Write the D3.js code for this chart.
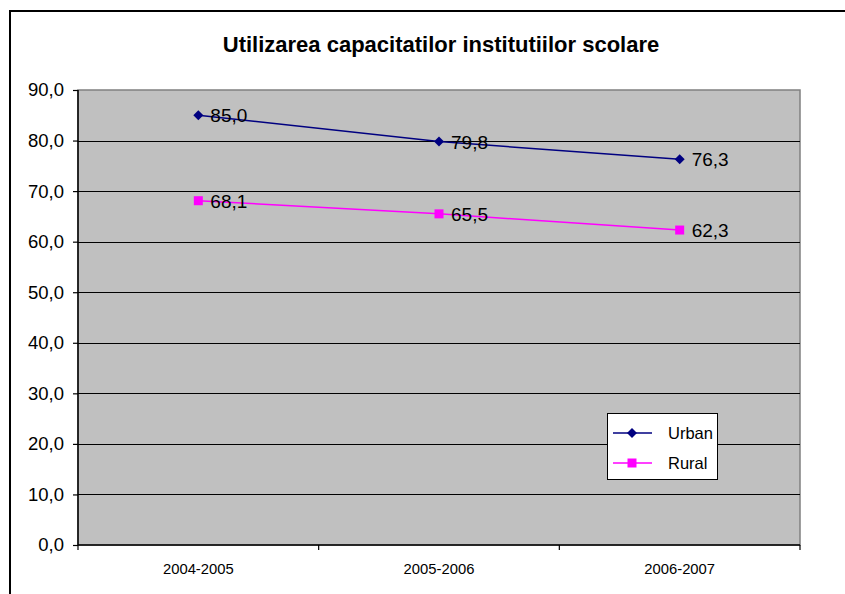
<!DOCTYPE html>
<html><head><meta charset="utf-8">
<script src="https://cdn.jsdelivr.net/npm/d3@7"></script>
<style>body{margin:0;background:#fff;} svg{display:block;font-family:Arial,"Liberation Sans",sans-serif;}</style>
</head><body>
<svg id="c" width="845" height="594"></svg>
<script>
const title = "Utilizarea capacitatilor institutiilor scolare";
const categories = ["2004-2005", "2005-2006", "2006-2007"];
const urban = [85.0, 79.8, 76.3];
const rural = [68.1, 65.5, 62.3];
const seriesNames = ["Urban", "Rural"];
const seriesColors = ["#000080", "#FF00FF"];
const yTicks = [0, 10, 20, 30, 40, 50, 60, 70, 80, 90];

const svg = d3.select("#c");
const m = {left: 78, top: 90, right: 800, bottom: 545};

svg.append("rect").attr("x", 10).attr("y", 11).attr("width", 900).attr("height", 700)
  .attr("fill", "#fff").attr("stroke", "#000").attr("stroke-width", 2);

svg.append("text").attr("x", 441).attr("y", 52).attr("text-anchor", "middle")
  .attr("font-size", 22).attr("font-weight", "bold").text(title);

const x = d3.scaleBand().domain(categories).range([m.left, m.right]).padding(0);
const y = d3.scaleLinear().domain([0, 90]).range([m.bottom, m.top]);
const fmt = v => d3.format(".1f")(v).replace(".", ",");

svg.append("rect").attr("x", m.left).attr("y", m.top)
  .attr("width", m.right - m.left).attr("height", m.bottom - m.top)
  .attr("fill", "#C0C0C0").attr("stroke", "#808080").attr("stroke-width", 1.5);

// gridlines
svg.append("g").selectAll("line").data(yTicks.filter(d => d > 0 && d < 90)).join("line")
  .attr("x1", m.left).attr("x2", m.right)
  .attr("y1", d => Math.round(y(d)) + 0.5).attr("y2", d => Math.round(y(d)) + 0.5)
  .attr("stroke", "#000").attr("stroke-width", 1);

// y axis
const yAxis = d3.axisLeft(y).tickValues(yTicks).tickFormat(fmt).tickSize(5).tickPadding(9);
const gy = svg.append("g").attr("transform", `translate(${m.left},0)`).call(yAxis);
gy.select(".domain").attr("stroke", "#000").attr("stroke-width", 1.5).attr("d", `M0,${m.top}V${m.bottom}`);
gy.selectAll(".tick line").attr("stroke", "#000").attr("stroke-width", 1.2);
gy.selectAll(".tick text").attr("font-size", 18.5).attr("fill", "#000").attr("font-family", "Arial, 'Liberation Sans', sans-serif");

// x axis
const gx = svg.append("g").attr("transform", `translate(0,${m.bottom})`);
gx.append("line").attr("x1", m.left).attr("x2", m.right).attr("y1", 0).attr("y2", 0)
  .attr("stroke", "#000").attr("stroke-width", 1.5);
const bounds = categories.map(c => x(c)).concat([x(categories[categories.length - 1]) + x.bandwidth()]);
gx.selectAll("line.tk").data(bounds).join("line").attr("class", "tk")
  .attr("x1", d => d).attr("x2", d => d).attr("y1", 0).attr("y2", 5)
  .attr("stroke", "#000").attr("stroke-width", 1.2);
gx.selectAll("text").data(categories).join("text")
  .attr("x", d => x(d) + x.bandwidth() / 2).attr("y", 29)
  .attr("text-anchor", "middle").attr("font-size", 14.8).text(d => d);

const series = [urban, rural];
const line = d3.line().x((d, i) => x(categories[i]) + x.bandwidth() / 2).y(d => y(d));
const diamond = s => `M0,${-s}L${s},0L0,${s}L${-s},0Z`;
const square = s => `M${-s},${-s}H${s}V${s}H${-s}Z`;
const shapes = [diamond(5), square(4.5)];

series.forEach((vals, si) => {
  const g = svg.append("g");
  g.append("path").attr("d", line(vals)).attr("fill", "none")
    .attr("stroke", seriesColors[si]).attr("stroke-width", 1.5);
  g.selectAll("path.mk").data(vals).join("path").attr("class", "mk")
    .attr("d", shapes[si])
    .attr("transform", (d, i) => `translate(${x(categories[i]) + x.bandwidth() / 2},${y(d)})`)
    .attr("fill", seriesColors[si]);
  g.selectAll("text").data(vals).join("text")
    .attr("x", (d, i) => x(categories[i]) + x.bandwidth() / 2 + 12)
    .attr("y", d => y(d) + 7)
    .attr("font-size", 19).attr("fill", "#000").text(d => fmt(d));
});

// legend
const lg = svg.append("g");
lg.append("rect").attr("x", 607.5).attr("y", 413.5).attr("width", 110).attr("height", 66)
  .attr("fill", "#fff").attr("stroke", "#000").attr("stroke-width", 1);
seriesNames.forEach((n, i) => {
  const ly = 433 + i * 30;
  lg.append("line").attr("x1", 613).attr("x2", 652).attr("y1", ly).attr("y2", ly)
    .attr("stroke", seriesColors[i]).attr("stroke-width", 1.5);
  lg.append("path").attr("d", shapes[i]).attr("transform", `translate(632,${ly})`).attr("fill", seriesColors[i]);
  lg.append("text").attr("x", 668).attr("y", ly + 6).attr("font-size", 16.5).text(n);
});
</script>
</body></html>
